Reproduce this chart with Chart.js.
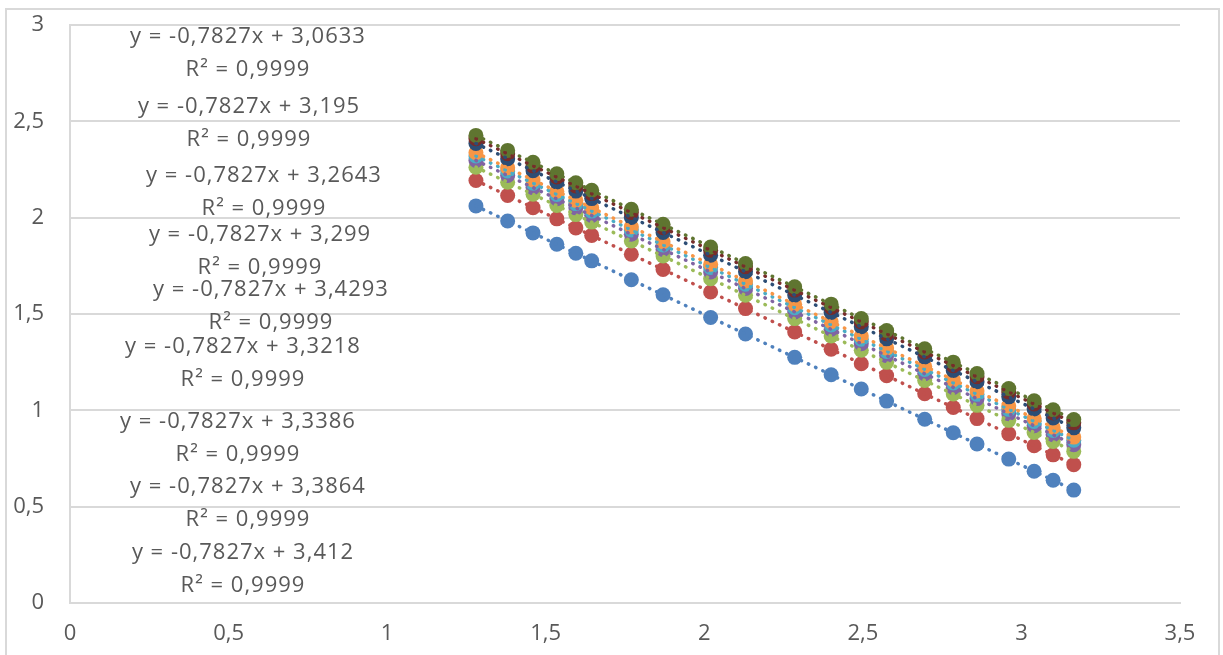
<!DOCTYPE html>
<html>
<head>
<meta charset="utf-8">
<script src="https://cdn.jsdelivr.net/npm/chart.js@4.4.1/dist/chart.umd.min.js"></script>
<style>
  body { margin: 0; background: #fff; }
  #wrap { position: relative; width: 1223px; height: 655px; overflow: hidden; }
  #moldura { position: absolute; left: 5px; top: 8px; width: 1211px; height: 660px; border: 2px solid #d9d9d9; }
  canvas { position: absolute; left: 0; top: 0; }
</style>
</head>
<body>
<div id="wrap">
  <div id="moldura"></div>
  <canvas id="grafico" width="1223" height="655"></canvas>
</div>
<script>
// valores
const xValores = [1.28, 1.38, 1.46, 1.535, 1.595, 1.645, 1.77, 1.87, 2.02, 2.13, 2.285, 2.40, 2.495, 2.575, 2.695, 2.785, 2.86, 2.96, 3.04, 3.10, 3.165];

const serie1 = [2.061, 1.983, 1.921, 1.862, 1.815, 1.776, 1.678, 1.600, 1.482, 1.396, 1.275, 1.185, 1.111, 1.048, 0.954, 0.884, 0.825, 0.747, 0.684, 0.637, 0.586];
const serie2 = [2.193, 2.115, 2.052, 1.994, 1.947, 1.908, 1.810, 1.731, 1.614, 1.528, 1.407, 1.317, 1.242, 1.180, 1.086, 1.015, 0.957, 0.878, 0.816, 0.769, 0.718];
const serie3 = [2.262, 2.184, 2.122, 2.063, 2.016, 1.977, 1.879, 1.801, 1.683, 1.597, 1.476, 1.386, 1.312, 1.249, 1.155, 1.085, 1.026, 0.948, 0.885, 0.838, 0.787];
const serie4 = [2.297, 2.219, 2.156, 2.098, 2.051, 2.012, 1.914, 1.835, 1.718, 1.632, 1.511, 1.421, 1.346, 1.284, 1.190, 1.119, 1.061, 0.982, 0.920, 0.873, 0.822];
const serie5 = [2.320, 2.242, 2.179, 2.120, 2.073, 2.034, 1.936, 1.858, 1.741, 1.655, 1.533, 1.443, 1.369, 1.306, 1.212, 1.142, 1.083, 1.005, 0.942, 0.895, 0.845];
const serie6 = [2.337, 2.259, 2.196, 2.137, 2.090, 2.051, 1.953, 1.875, 1.758, 1.671, 1.550, 1.460, 1.386, 1.323, 1.229, 1.159, 1.100, 1.022, 0.959, 0.912, 0.861];
const serie7 = [2.385, 2.306, 2.244, 2.185, 2.138, 2.099, 2.001, 1.923, 1.805, 1.719, 1.598, 1.508, 1.434, 1.371, 1.277, 1.207, 1.148, 1.070, 1.007, 0.960, 0.909];
const serie8 = [2.410, 2.332, 2.269, 2.211, 2.164, 2.125, 2.027, 1.948, 1.831, 1.745, 1.624, 1.534, 1.459, 1.397, 1.303, 1.232, 1.174, 1.095, 1.033, 0.986, 0.935];
const serie9 = [2.427, 2.349, 2.287, 2.228, 2.181, 2.142, 2.044, 1.966, 1.848, 1.762, 1.641, 1.551, 1.477, 1.414, 1.320, 1.250, 1.191, 1.113, 1.050, 1.003, 0.952];

// equações das linhas de tendência (como aparecem no gráfico)
const inclinacao = '-0,7827';
const interceptos = ['3,0633', '3,195', '3,2643', '3,299', '3,3218', '3,3386', '3,3864', '3,412', '3,4293'];
const r2 = '0,9999';
// ordem em que os rótulos aparecem de cima para baixo
const ordemRotulos = [0, 1, 2, 3, 8, 4, 5, 6, 7];

const xTickLabels = ['0', '0,5', '1', '1,5', '2', '2,5', '3', '3,5'];
const yTickLabels = ['0', '0,5', '1', '1,5', '2', '2,5', '3'];

const series = [serie1, serie2, serie3, serie4, serie5, serie6, serie7, serie8, serie9];
const cores = ['#4F81BD', '#C0504D', '#9BBB59', '#8064A2', '#4BACC6', '#F79646', '#2C4D75', '#772C2A', '#5F7530'];

// posição (centro) de cada rótulo de equação, em px
const posRotulos = [[248, 37], [249, 107], [264, 176], [260, 235], [271, 290], [243, 347], [238, 422], [248, 487], [243, 553]];

const datasets = [];
series.forEach((valores, i) => {
  datasets.push({
    label: 'Série ' + (i + 1),
    data: xValores.map((x, j) => ({ x: x, y: valores[j] })),
    backgroundColor: cores[i],
    borderColor: cores[i],
    pointRadius: 7.5,
    pointBorderWidth: 0,
    showLine: false,
    order: 100 - i
  });
});
// linhas de tendência pontilhadas (do primeiro ao último ponto)
series.forEach((valores, i) => {
  const n = valores.length - 1;
  datasets.push({
    label: 'Tendência ' + (i + 1),
    data: [{ x: xValores[0], y: valores[0] }, { x: xValores[n], y: valores[n] }],
    borderColor: cores[i],
    borderWidth: 3.5,
    borderDash: [0.5, 7.5],
    borderCapStyle: 'round',
    pointRadius: 0,
    showLine: true,
    fill: false,
    order: -i
  });
});

const rotulosTendencia = {
  id: 'rotulosTendencia',
  afterDatasetsDraw(chart) {
    const ctx = chart.ctx;
    ctx.save();
    ctx.font = '22px "Open Sans"';
    ctx.fillStyle = '#595959';
    ctx.textAlign = 'center';
    ctx.textBaseline = 'middle';
    ctx.letterSpacing = '1px';
    ordemRotulos.forEach((s, i) => {
      const [cx, cy] = posRotulos[i];
      ctx.fillText('y = ' + inclinacao + 'x + ' + interceptos[s], cx, cy);
      ctx.fillText('R² = ' + r2, cx, cy + 33);
    });
    ctx.restore();
  }
};

const fonteEixo = { family: '"Open Sans"', size: 22 };

new Chart(document.getElementById('grafico').getContext('2d'), {
  type: 'scatter',
  data: { datasets: datasets },
  options: {
    responsive: false,
    animation: false,
    layout: { padding: { top: 25, right: 43, left: 0, bottom: 0 } },
    plugins: {
      legend: { display: false },
      tooltip: { enabled: false }
    },
    scales: {
      x: {
        type: 'linear',
        min: 0,
        max: 3.5,
        afterFit: (scale) => { scale.height = 52; },
        ticks: {
          stepSize: 0.5,
          padding: 18,
          color: '#595959',
          font: fonteEixo,
          callback: (v, i) => xTickLabels[i]
        },
        grid: { display: false, drawTicks: false },
        border: { display: true, color: '#d9d9d9', width: 2 }
      },
      y: {
        min: 0,
        max: 3,
        afterFit: (scale) => {
          scale.width = 70;
          // o padding dos rótulos não deve empurrar a área do gráfico
          scale.paddingTop = 0;
          scale.paddingBottom = 0;
        },
        ticks: {
          stepSize: 0.5,
          padding: 26,
          color: '#595959',
          font: fonteEixo,
          callback: (v, i) => yTickLabels[i]
        },
        grid: { color: '#d9d9d9', lineWidth: 2, drawTicks: false },
        border: { display: true, color: '#d9d9d9', width: 2 }
      }
    }
  },
  plugins: [rotulosTendencia]
});
</script>
</body>
</html>
